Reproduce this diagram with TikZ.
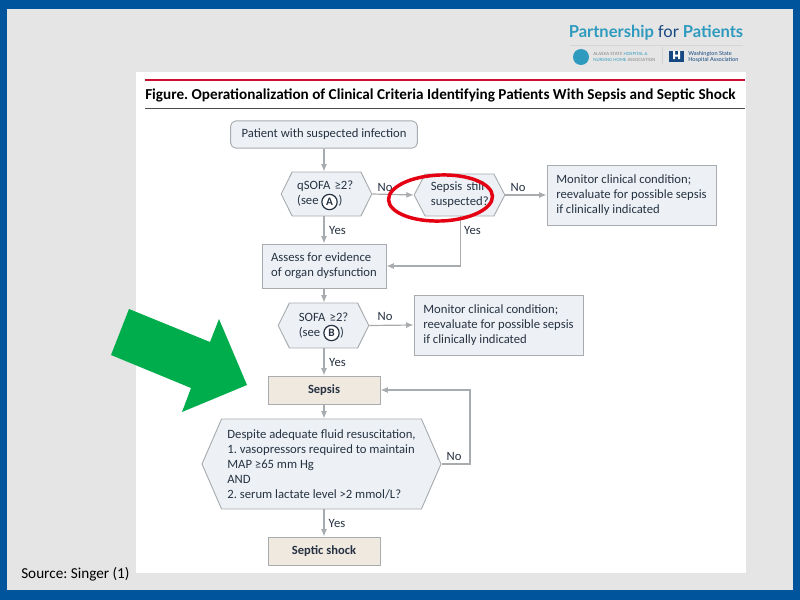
\documentclass[tikz,border=0pt]{standalone}
\usepackage{fontspec}
\setmainfont{Carlito}
\newfontfamily\logofont{Lato}
\frenchspacing
\usetikzlibrary{arrows.meta,shapes.geometric,shapes.symbols}
\definecolor{framblue}{RGB}{0,84,155}
\definecolor{slidegray}{RGB}{229,229,229}
\definecolor{boxfill}{RGB}{237,241,245}
\definecolor{boxline}{RGB}{168,172,175}
\definecolor{beigefill}{RGB}{240,233,224}
\definecolor{figtext}{RGB}{38,50,66}
\definecolor{titlered}{RGB}{200,16,46}
\definecolor{arrowgreen}{RGB}{0,173,76}
\definecolor{ringred}{RGB}{228,0,18}
\definecolor{logoblue}{RGB}{46,155,190}
\definecolor{logonavy}{RGB}{22,72,130}
\tikzset{
	figlabel/.style={inner sep=0pt,text=figtext,font=\fontsize{9.5}{11.3}\selectfont},
	plainbox/.style={figlabel,draw=boxline,fill=boxfill,line width=0.7pt,align=left},
	roundbox/.style={plainbox,rounded corners=4pt,align=center},
	beigebox/.style={plainbox,fill=beigefill,align=center,font=\fontsize{9.4}{11.3}\selectfont\bfseries},
	hexbox/.style={plainbox,shape=signal,signal to=east and west},
	letterring/.style={circle,draw=figtext,line width=0.9pt,fill=white,minimum size=11.5pt,inner sep=0pt,text=figtext,font=\fontsize{8.5}{8.5}\selectfont\bfseries},
	flow/.style={draw=boxline,line width=0.9pt,-{Latex[length=5.5pt,width=4.5pt]}},
}
\begin{document}
\begin{tikzpicture}[x=0.75pt,y=0.75pt,yscale=-1,xscale=1]
	\useasboundingbox (0,0) rectangle (800,600);
	% slide
	\fill[framblue] (0,0) rectangle (800,600);
	\fill[slidegray] (6.5,9) rectangle (793,590);
	\fill[white] (135.5,72) rectangle (746,573);
	% logo
	\node[inner sep=0pt,text=logoblue,font=\logofont\fontsize{12.4}{12.4}\selectfont\bfseries] (plogo) at (656,33) {Partnership \textcolor{logonavy}{\mdseries for} Patients};
	\draw[boxline!50,line width=0.5pt] (570,45) -- (743,45);
	\fill[logoblue] (581,57) circle (8);
	\node[inner sep=0pt,text=gray,font=\logofont\fontsize{3.2}{4}\selectfont,align=left,anchor=west] (ashnha) at (593,57) {ALASKA STATE \textcolor{logoblue}{HOSPITAL \&}\\\textcolor{logoblue}{NURSING HOME} ASSOCIATION};
	\draw[boxline!50,line width=0.5pt] (662,47) -- (662,64);
	\fill[logonavy] (669,51) rectangle (684,62);
	\fill[white] (673,51) rectangle (675,59) (678,51) rectangle (680,59) (675,54.5) rectangle (678,56.5);
	\node[inner sep=0pt,text=logonavy,font=\logofont\fontsize{4.2}{5}\selectfont,align=left,anchor=west] (wsha) at (688,57) {Washington State\\Hospital Association};
	% heading
	\draw[titlered,line width=2pt] (145,80) -- (745,80);
	\node[inner sep=0pt,anchor=west,text=black,font=\fontsize{11.4}{11.4}\selectfont\bfseries] (figtitle) at (145,95) {Figure. Operationalization of Clinical Criteria Identifying Patients With Sepsis and Septic Shock};
	\draw[black!70,line width=1pt] (145,108.5) -- (745,108.5);
	% flowchart
	\node[roundbox,minimum width=140pt,minimum height=20.5pt] (patient) at (324,134.5) {Patient with suspected infection};
	\node[hexbox,minimum width=68pt,minimum height=33pt,signal pointer angle=127,text width=44pt] (qsofa) at (326.5,194) {qSOFA ≥2?\\(see\hspace{15pt})};
	\node[hexbox,minimum width=68pt,minimum height=31.5pt,signal pointer angle=125,text width=43pt] (still) at (459.5,195) {Sepsis still\\suspected?};
	\node[plainbox,minimum width=126.75pt,minimum height=45pt] (monitora) at (631.5,195) {Monitor clinical condition;\\reevaluate for possible sepsis\\if clinically indicated};
	\node[plainbox,minimum width=93pt,minimum height=33pt] (assess) at (324,266) {Assess for evidence\\of organ dysfunction};
	\node[hexbox,minimum width=68pt,minimum height=33.75pt,signal pointer angle=127,text width=37pt] (sofa) at (323.5,325.5) {\mbox{SOFA ≥2?}\\(see\hspace{15pt})};
	\node[plainbox,minimum width=126.75pt,minimum height=45pt] (monitorb) at (498.5,325) {Monitor clinical condition;\\reevaluate for possible sepsis\\if clinically indicated};
	\node[beigebox,minimum width=84pt,minimum height=21pt] (sepsis) at (324,390) {Sepsis};
	\node[hexbox,minimum width=179.25pt,minimum height=67.5pt,signal pointer angle=133] (fluid) at (321.5,464) {Despite adequate fluid resuscitation,\\1. vasopressors required to maintain\\MAP ≥65 mm Hg\\AND\\2. serum lactate level >2 mmol/L?};
	\node[beigebox,minimum width=84pt,minimum height=21pt] (shock) at (324,551) {Septic shock};
	% letters in circles
	\node[letterring] (circa) at (329.5,202) {A};
	\node[letterring] (circb) at (331.5,333) {B};
	% connectors
	\draw[flow] (patient) -- (patient |- qsofa.north);
	\draw[flow] (qsofa.east) -- (still.west);
	\draw[flow] (still.east) -- (monitora.west);
	\draw[flow] (patient |- qsofa.south) -- (patient |- assess.north);
	\coordinate (stillout) at (460.5,216);
	\draw[flow] (stillout) |- (assess.east);
	\draw[flow] (patient |- assess.south) -- (patient |- sofa.north);
	\draw[flow] (sofa.east) -- (monitorb.west);
	\draw[flow] (patient |- sofa.south) -- (sepsis.north);
	\draw[flow] (sepsis.south) -- (sepsis |- fluid.north);
	\draw[flow] (sepsis |- fluid.south) -- (shock.north);
	\coordinate (fluidturn) at (470,464);
	\draw[flow] (fluid.east) -- (fluidturn) |- (sepsis.east);
	% branch labels
	\node[figlabel] (noa) at (385,187) {No};
	\node[figlabel] (yesa) at (337.5,230) {Yes};
	\node[figlabel] (nob) at (518,187) {No};
	\node[figlabel] (yesb) at (472.5,230) {Yes};
	\node[figlabel] (noc) at (385,316) {No};
	\node[figlabel] (yesc) at (337.5,362) {Yes};
	\node[figlabel] (nod) at (454,456) {No};
	\node[figlabel] (yesd) at (337,523) {Yes};
	% ring and arrow
	\draw[ringred,line width=2.6pt,rotate around={-2:(440.5,198)}] (440.5,198) ellipse [x radius=52,y radius=23];
	\fill[arrowgreen] (129,309) -- (210,342) -- (219,319) -- (247,385) -- (182,412) -- (191,388) -- (111,355) -- cycle;
	% source
	\node[inner sep=0pt,anchor=west,text=black,font=\fontsize{11.4}{11.4}\selectfont] (source) at (21,574) {Source: Singer (1)};
\end{tikzpicture}
\end{document}
